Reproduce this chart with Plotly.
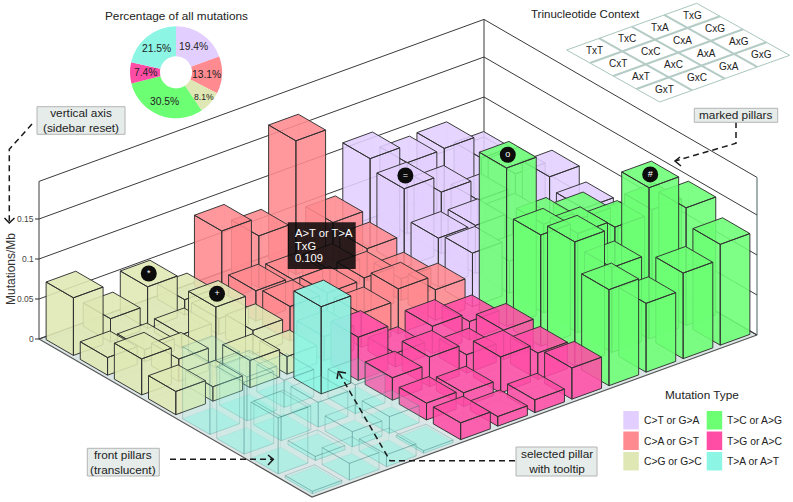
import math
import plotly.graph_objects as go

# ---------- data ----------
mutation_types = ["C>T or G>A", "C>A or G>T", "C>G or G>C", "T>C or A>G", "T>G or A>C", "T>A or A>T"]
pie_percent = [19.4, 13.1, 8.1, 30.5, 7.4, 21.5]
context_rows = [["TxG", "TxA", "TxC", "TxT"],
                ["CxG", "CxA", "CxC", "CxT"],
                ["AxG", "AxA", "AxC", "AxT"],
                ["GxG", "GxA", "GxC", "GxT"]]
z_ticks = [0, 0.05, 0.1, 0.15]
z_tick_labels = ["0", "0.05", "0.1", "0.15"]
z_top = 0.197
tooltip_lines = ["A>T or T>A", "TxG", "0.109"]

# rows: depth 0..3 (front to back), columns: position 0..3 along the right-going edge
values_ct = [[.067, .040, .030, .072], [.061, .060, .050, .087], [.098, .077, .050, .066], [.111, .089, .090, .061]]
values_ca = [[.030, .042, .056, .038], [.043, .043, .045, .027], [.038, .035, .030, .040], [.088, .065, .167, .048]]
values_cg = [[.029, .018, .034, .022], [.045, .028, .076, .030], [.022, .015, .017, .020], [.072, .029, .052, .019]]
values_tc = [[.120, .086, .107, .126], [.155, .106, .189, .147], [.139, .124, .115, .120], [.198, .111, .101, .072]]
values_tg = [[.021, .012, .016, .039], [.021, .017, .045, .033], [.028, .037, .023, .037], [.054, .017, .034, .023]]
values_ta = [[.003, .021, .015, .003], [.070, .005, .019, .021], [.090, .030, .031, .036], [.090, .055, .034, .109]]

# ---------- style ----------
colors = ["#E3CFFF", "#FF8A90", "#DFE8B4", "#6CFF74", "#FF4DA6", "#8CF5E4"]
rgb = {"#E3CFFF": "227,207,255", "#FF8A90": "255,138,144", "#DFE8B4": "223,232,180",
       "#6CFF74": "108,255,116", "#FF4DA6": "255,77,166", "#8CF5E4": "140,245,228"}
blocks = [(values_ct, 8, 4, 0), (values_ca, 4, 4, 1), (values_cg, 0, 4, 2),
          (values_tc, 8, 0, 3), (values_tg, 4, 0, 4), (values_ta, 0, 0, 5)]
FONT = "Liberation Sans, Arial, sans-serif"
TXT = "#222222"

# oblique projection of the plot box
OX, OY = 312.0, 497.0
UX, UY = 445 / 12, -162 / 12
VX, VY = -273 / 8, -158 / 8
ZK = 800.0
def proj(u, v, z=0.0):
    return OX + u * UX + v * VX, OY + u * UY + v * VY - z * ZK

fig = go.Figure()

def poly(points, fill=None, line=None, width=1.0, dash=None):
    xs, ys = [], []
    for p in points:
        if p is None:
            xs.append(None); ys.append(None)
        else:
            xs.append(p[0]); ys.append(p[1])
    fig.add_trace(go.Scatter(x=xs, y=ys, mode="lines", hoverinfo="skip", showlegend=False,
                             fill="toself" if fill else None, fillcolor=fill,
                             line=dict(color=line or "rgba(0,0,0,0)", width=width if line else 0, dash=dash)))

# floor
L, F, R, B = proj(0, 8), proj(0, 0), proj(12, 0), proj(12, 8)
poly([L, F, R, B, L], fill="#DCE6E6", line="#555555", width=1.2)
# walls
wall_levels = list(z_ticks[1:]) + [z_top]
for z in wall_levels:
    poly([proj(0, 8, z), proj(12, 8, z), proj(12, 0, z)], line="#3a3a3a", width=1.0)
poly([proj(0, 8, 0), proj(12, 8, 0)], line="#3a3a3a", width=1.0)
poly([proj(12, 8, 0), proj(12, 0, 0)], line="#3a3a3a", width=1.0)
poly([proj(0, 8, 0), proj(0, 8, z_top)], line="#3a3a3a", width=1.0)
poly([proj(12, 8, 0), proj(12, 8, z_top)], line="#3a3a3a", width=1.0)
poly([proj(12, 0, 0), proj(12, 0, z_top)], line="#45605F", width=1.0)

# cells
cells = []
for vals, u0, v0, ci in blocks:
    for r in range(4):
        for c in range(4):
            cells.append((u0 + c, v0 + r, vals[r][c], ci))
cells.sort(key=lambda t: -(t[0] + t[1]))

GAP = 0.1
for u, v, h, ci in cells:
    col = rgb[colors[ci]]
    selected = (ci == 5 and u == 3 and v == 3)
    ghost = (ci == 5 and not selected)
    a, b = u + GAP, v + GAP
    c, d = u + 1 - GAP, v + 1 - GAP
    if ghost:
        fill = f"rgba({col},0.14)"; edge = "rgba(50,110,110,0.26)"; back = "rgba(60,120,120,0.10)"
        poly([proj(a, b), proj(a, d), proj(c, d), proj(c, b), proj(a, b)], fill=f"rgba({col},0.45)")
    elif selected:
        fill = f"rgba({col},0.92)"; edge = "#2a2a2a"; back = "rgba(60,120,120,0.25)"
    else:
        fill = f"rgba({col},0.88)"; edge = "#303030"; back = "rgba(70,70,130,0.22)"
    # hidden edges behind the bar
    poly([proj(c, d, 0), proj(a, d, 0), None, proj(c, d, 0), proj(c, b, 0), None,
          proj(c, d, 0), proj(c, d, h)], line=back, width=0.8)
    faces = [proj(a, b, h), proj(a, d, h), proj(c, d, h), proj(c, b, h), proj(a, b, h), None,
             proj(a, b, 0), proj(a, d, 0), proj(a, d, h), proj(a, b, h), proj(a, b, 0), None,
             proj(a, b, 0), proj(c, b, 0), proj(c, b, h), proj(a, b, h), proj(a, b, 0)]
    poly(faces, fill=fill, line=edge, width=0.95)

# marked pillars
marks = [("*", 2, 7, values_cg[3][2]), ("+", 2, 5, values_cg[1][2]), ("=", 8, 6, values_ct[2][0]),
         ("o", 8, 3, values_tc[3][0]), ("#", 10, 1, values_tc[1][2])]
for sym, u, v, h in marks:
    px, py = proj(u + .5, v + .5, h)
    fig.add_trace(go.Scatter(x=[px], y=[py], mode="markers+text", text=[sym], textposition="middle center",
                             marker=dict(color="#0c0c0c", size=16), hoverinfo="skip", showlegend=False,
                             textfont=dict(color="white", size=9, family=FONT)))

annotations, shapes = [], []
def text(x, y, s, size=10.5, anchor="center", color=TXT, angle=0):
    annotations.append(dict(x=x, y=y, xref="x", yref="y", text=s, showarrow=False, xanchor=anchor, yanchor="middle",
                            align="left" if anchor == "left" else "center", textangle=angle,
                            font=dict(family=FONT, size=size, color=color)))

# axis ticks + labels
for z, lab in zip(z_ticks, z_tick_labels):
    px, py = proj(0, 8, z)
    poly([(px - 4, py), (px, py)], line="#333333", width=1)
    text(px - 3, py, lab, size=8.5, anchor="right", color="#444444")
text(11, 269, "Mutations/Mb", size=12, angle=-90, color="#333333")

# dashed call-out arrows
def arrow(path, wing1, wing2):
    poly(path, line="#1a1a1a", width=1.5, dash="6px,4px")
    poly([wing1, path[-1], wing2], line="#1a1a1a", width=1.5)
arrow([(32, 124), (9.3, 149.3), (9.3, 223)], (4.5, 218), (14.5, 218))
arrow([(736, 122), (736, 143.3), (675, 161)], (680, 157), (681, 166))
arrow([(170, 459.3), (273.3, 459.3)], (268, 455), (268, 465))
arrow([(515, 460.7), (390, 460.7), (338.3, 371.7)], (337, 379), (346, 373))

# call-out boxes
def callout(x0, y0, x1, y1, s):
    shapes.append(dict(type="rect", xref="x", yref="y", x0=x0, y0=y0, x1=x1, y1=y1, fillcolor="#E6ECEA",
                       line=dict(color="#B4B4B4", width=1)))
    text((x0 + x1) / 2, (y0 + y1) / 2, s, size=11.8)
callout(37, 106.7, 125, 134.3, "vertical axis<br>(sidebar reset)")
callout(694.3, 108.3, 777.7, 122.3, "marked pillars")
callout(87.3, 448.3, 159.3, 476, "front pillars<br>(translucent)")
callout(516, 447, 597, 476, "selected pillar<br>with tooltip")

# tooltip
shapes.append(dict(type="rect", xref="x", yref="y", x0=287.7, y0=222.3, x1=355.7, y1=269,
                   fillcolor="rgba(8,8,8,0.86)", line=dict(width=0)))
for i, t in enumerate(tooltip_lines):
    text(293, 233 + i * 12.6, t, size=11.2, anchor="left", color="white")

# trinucleotide context inset
T0 = (696.7, 3.3)
AX, AY = -32.5, 11.675
CX, CY = 23.25, 13.0
def inset(i, j):
    return T0[0] + i * AX + j * CX, T0[1] + i * AY + j * CY
poly([inset(0, 0), inset(4, 0), inset(4, 4), inset(0, 4), inset(0, 0)], fill="white", line="#A9C6BE", width=1)
for k in (1, 2, 3):
    poly([inset(k, 0), inset(k, 4)], line="#B5CCC6", width=2)
    poly([inset(0, k), inset(4, k)], line="#B5CCC6", width=2)
for j, row in enumerate(context_rows):
    for i, lab in enumerate(row):
        cx, cy = inset(i + .5, j + .5)
        text(cx, cy, lab, size=10)
text(585, 14, "Trinucleotide Context", size=11.5)

# legend
text(701.7, 395, "Mutation Type", size=11.8)
legend_x = [623.3, 623.3, 623.3, 706.7, 706.7, 706.7]
legend_y = [411, 431.5, 452, 411, 431.5, 452]
for name, col, x0, y0 in zip(mutation_types, colors, legend_x, legend_y):
    shapes.append(dict(type="rect", xref="x", yref="y", x0=x0, y0=y0, x1=x0 + 15.5, y1=y0 + 18.5,
                       fillcolor=col, line=dict(width=0)))
    text(x0 + 18.5, y0 + 9.5, name, size=10.3, anchor="left")

# pie
text(176, 15.5, "Percentage of all mutations", size=11.8)
PCX, PCY, PR = 176.0, 72.3, 46.0
fig.add_trace(go.Pie(values=pie_percent, labels=mutation_types, sort=False, direction="clockwise", rotation=0, hole=0.35,
                     marker=dict(colors=colors, line=dict(width=0)), textinfo="none",
                     hoverinfo="skip", showlegend=False,
                     domain=dict(x=[(PCX - PR) / 793, (PCX + PR) / 793],
                                 y=[1 - (PCY + PR) / 502, 1 - (PCY - PR) / 502])))
run = 0.0
for p in pie_percent:
    ang = (run + p / 2) / 100 * 2 * math.pi
    run += p
    rad = 37 if p < 10 and p > 8 else 31
    text(PCX + rad * math.sin(ang), PCY - rad * math.cos(ang), f"{p}%", size=8.6 if rad == 37 else 10.3)

fig.update_layout(width=793, height=502, margin=dict(l=0, r=0, t=0, b=0), paper_bgcolor="white", plot_bgcolor="white",
                  xaxis=dict(range=[0, 793], visible=False, fixedrange=True),
                  yaxis=dict(range=[502, 0], visible=False, fixedrange=True),
                  showlegend=False, hovermode=False, annotations=annotations, shapes=shapes)
fig.write_html("out.html", config={"displayModeBar": False},
               post_script="document.body.style.margin='0';document.documentElement.style.overflow='hidden';")
